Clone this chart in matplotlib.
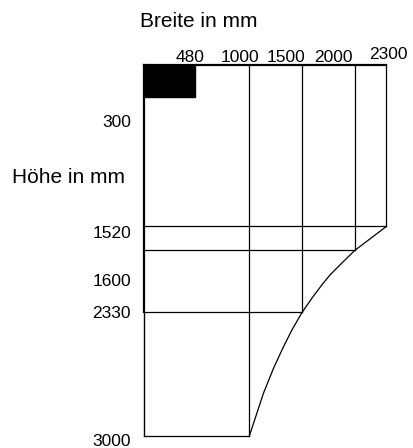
"""
Schematic of width/height zones (not to scale), drawn with matplotlib.
"""

import numpy as np
import matplotlib.pyplot as plt
from matplotlib.patches import Rectangle

plt.rcParams['font.family'] = ['Liberation Sans', 'DejaVu Sans']

# widths and heights in mm
breite = [480, 1000, 1500, 2000, 2300]
hoehe = [300, 1520, 1600, 2330, 3000]
# how far down each width line runs / how far right each height line runs
breite_bis = [300, 3000, 2330, 1600, 1520]
hoehe_bis = [480, 2300, 2000, 1500, 1000]
# outer edge on the right side (corner, then the curve down to the bottom)
rand_x = [2300, 2000, 1863, 1768, 1689, 1594, 1500, 1404, 1324, 1229, 1134, 1071, 1000]
rand_y = [1520, 1600, 1766, 1885, 2004, 2161, 2330, 2425, 2516, 2633, 2768, 2877, 3000]

# the drawing is not to scale vertically -> piecewise scale (mm -> drawing units)
y_mm = [0, 300, 1520, 1600, 2330, 3000]
y_px = [65.3, 97.5, 226.5, 250.5, 312.5, 436.0]

W, H = 414, 448
fig = plt.figure(figsize=(W / 100, H / 100), dpi=100)
ax = fig.add_axes([144 / W, 1 - 436 / H, (386.3 - 144) / W, (436 - 65.3) / H])
ax.set_yscale('function', functions=(lambda v: np.interp(v, y_mm, y_px),
                                     lambda p: np.interp(p, y_px, y_mm)))
ax.set_xlim(0, 2300)
ax.set_ylim(3000, 0)
ax.axis('off')

# outer top and left edge
ax.plot([0, breite[-1]], [0, 0], color='black', lw=1.6, clip_on=False)
ax.plot([0, 0], [0, hoehe[3]], color='black', lw=1.6, clip_on=False)
ax.plot([0, 0], [hoehe[3], hoehe[-1]], color='black', lw=1.0, clip_on=False)

# grid lines
for x, y2 in zip(breite[1:], breite_bis[1:]):
    ax.plot([x, x], [0, y2], color='black', lw=0.9, clip_on=False)
for y, x2 in zip(hoehe[1:], hoehe_bis[1:]):
    ax.plot([0, x2], [y, y], color='black', lw=0.9, clip_on=False)

# right edge with curve
ax.plot(rand_x, rand_y, color='black', lw=0.9, clip_on=False)

# black block in the corner
ax.add_patch(Rectangle((0, 0), breite[0], hoehe[0], color='black', clip_on=False))

# labels
top_dx = [-5, -9.7, -16.5, -21.6, 2.2]
top_dy = [3.6, 3.6, 3.6, 3.6, 6.3]
for x, dx, dy in zip(breite, top_dx, top_dy):
    ax.annotate(str(x), (x, 0), xytext=(dx, dy), textcoords='offset pixels',
                ha='center', va='baseline', fontsize=12.5, annotation_clip=False)

left_dy = [-29.2, -11.2, -35.2, -5.8, -10]
for y, dy in zip(hoehe, left_dy):
    ax.annotate(str(y), (0, y), xytext=(-13, dy), textcoords='offset pixels',
                ha='right', va='baseline', fontsize=12.5, annotation_clip=False)

fig.text(198.5 / W, 1 - 26.7 / H, "Breite in mm", ha='center', va='baseline', fontsize=15)
fig.text(68.4 / W, 1 - 182.7 / H, "Höhe in mm", ha='center', va='baseline', fontsize=15)

fig.savefig("out.png", dpi=100)
